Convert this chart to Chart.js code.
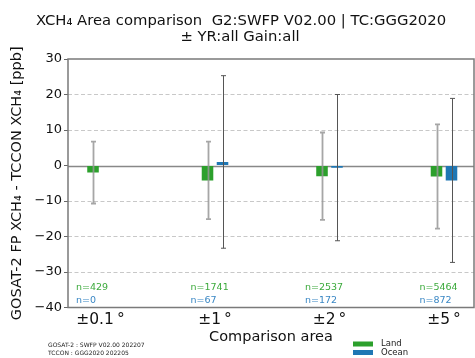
<!DOCTYPE html>
<html>
<head>
<meta charset="utf-8">
<script src="https://cdn.jsdelivr.net/npm/chart.js@4/dist/chart.umd.min.js"></script>
<style>
  body { margin: 0; background: #fff; overflow: hidden; }
  #wrap { width: 475px; height: 358px; }
</style>
</head>
<body>
<div id="wrap"><canvas id="ChartArea" width="475" height="358"></canvas></div>
<script>
// comparison areas
var areas = ['±0.1\u2009°', '±1\u2009°', '±2\u2009°', '±5\u2009°'];
// mean difference and standard deviation (ppb)
var landMean = [-2.0, -4.2, -3.0, -3.1];
var landSd = [8.7, 10.9, 12.3, 14.7];
var oceanMean = [null, 1.0, -0.6, -4.2];
var oceanSd = [null, 24.3, 20.6, 23.1];
// number of samples
var landN = [429, 1741, 2537, 5464];
var oceanN = [0, 67, 172, 872];
var yTicks = [30, 20, 10, 0, -10, -20, -30, -40];

var FONT = "'DejaVu Sans', sans-serif";
var GREEN = '#2ca02c';
var BLUE = '#1f77b4';

function toPoints(vals) {
  return vals.map(function (v, i) { return { x: i, y: v }; });
}

var extras = {
  id: 'extras',
  beforeDatasetsDraw: function (chart) {
    var ctx = chart.ctx, a = chart.chartArea, y = chart.scales.y;
    var y0 = Math.round(y.getPixelForValue(0)) + 0.5;
    ctx.save();
    ctx.strokeStyle = '#888';
    ctx.lineWidth = 1.3;
    ctx.beginPath();
    ctx.moveTo(a.left, y0);
    ctx.lineTo(a.right, y0);
    ctx.stroke();
    ctx.restore();
  },
  afterDatasetsDraw: function (chart) {
    var ctx = chart.ctx, a = chart.chartArea, x = chart.scales.x, y = chart.scales.y;
    var errs = [
      { mean: landMean, sd: landSd, color: 'rgba(150,150,150,0.85)', w: 1.8 },
      { mean: oceanMean, sd: oceanSd, color: '#555', w: 1 }
    ];
    ctx.save();
    errs.forEach(function (e, d) {
      var meta = chart.getDatasetMeta(d);
      meta.data.forEach(function (el, i) {
        if (e.mean[i] === null) return;
        var px = Math.round(el.x) + 0.5;
        var top = y.getPixelForValue(e.mean[i] + e.sd[i]);
        var bot = y.getPixelForValue(e.mean[i] - e.sd[i]);
        ctx.strokeStyle = e.color;
        ctx.lineWidth = e.w;
        ctx.beginPath();
        ctx.moveTo(px, top); ctx.lineTo(px, bot);
        ctx.moveTo(px - 2.5, top); ctx.lineTo(px + 2.5, top);
        ctx.moveTo(px - 2.5, bot); ctx.lineTo(px + 2.5, bot);
        ctx.stroke();
      });
    });

    // sample counts
    ctx.font = '9.5px ' + FONT;
    ctx.textBaseline = 'middle';
    ctx.textAlign = 'left';
    areas.forEach(function (lab, i) {
      var px = x.getPixelForValue(i) - 24.5;
      ctx.fillStyle = '#3caa3c';
      ctx.fillText('n=' + landN[i], px, a.bottom - 19.5);
      ctx.fillStyle = '#3a87c4';
      ctx.fillText('n=' + oceanN[i], px, a.bottom - 6.5);
    });

    // axes box
    ctx.strokeStyle = '#7a7a7a';
    ctx.lineWidth = 1.5;
    ctx.strokeRect(a.left, a.top, a.right - a.left, a.bottom - a.top);
    ctx.restore();
  },
  afterDraw: function (chart) {
    var ctx = chart.ctx;
    ctx.save();
    ctx.fillStyle = '#111';
    ctx.textAlign = 'center';
    ctx.textBaseline = 'alphabetic';
    ctx.font = '14.8px ' + FONT;
    ctx.fillText('XCH\u2084 Area comparison  G2:SWFP V02.00 | TC:GGG2020', 241, 25);
    ctx.fillText('± YR:all Gain:all', 240, 41);

    // footnote
    ctx.textAlign = 'left';
    ctx.textBaseline = 'middle';
    ctx.font = '6px ' + FONT;
    ctx.fillStyle = '#222';
    ctx.fillText('GOSAT-2 : SWFP V02.00 202207', 48, 345);
    ctx.fillText('TCCON : GGG2020 202205', 48, 353);

    // legend
    ctx.fillStyle = GREEN;
    ctx.fillRect(353, 341.5, 20, 5);
    ctx.fillStyle = BLUE;
    ctx.fillRect(353, 350, 20, 5);
    ctx.fillStyle = '#222';
    ctx.font = '8.5px ' + FONT;
    ctx.fillText('Land', 381, 344);
    ctx.fillText('Ocean', 381, 353);
    ctx.restore();
  }
};

var ctx = document.getElementById('ChartArea').getContext('2d');
var myChart = new Chart(ctx, {
  type: 'bar',
  data: {
    datasets: [{
      label: 'Land',
      data: toPoints(landMean),
      backgroundColor: GREEN,
      borderWidth: 0,
      categoryPercentage: 0.262,
      barPercentage: 0.77
    }, {
      label: 'Ocean',
      data: toPoints(oceanMean),
      backgroundColor: BLUE,
      borderWidth: 0,
      categoryPercentage: 0.262,
      barPercentage: 0.77
    }]
  },
  plugins: [extras],
  options: {
    responsive: false,
    animation: false,
    devicePixelRatio: 1,
    layout: { padding: { top: 59, right: 1, left: 0, bottom: 0 } },
    plugins: {
      legend: { display: false },
      tooltip: { enabled: false },
      title: { display: false }
    },
    scales: {
      x: {
        type: 'linear',
        offset: false,
        min: -0.284,
        max: 3.262,
        afterBuildTicks: function (scale) {
          scale.ticks = areas.map(function (a, i) { return { value: i }; });
        },
        afterFit: function (scale) { scale.height = 50.5; },
        ticks: {
          autoSkip: false,
          maxRotation: 0,
          padding: 3,
          color: '#111',
          font: { family: FONT, size: 15.5 },
          callback: function (v) { return areas[v]; }
        },
        grid: { display: false, drawTicks: false, offset: false },
        border: { display: false },
        title: {
          display: true,
          text: 'Comparison area',
          color: '#111',
          font: { family: FONT, size: 14.5 },
          padding: { top: 0, bottom: 12 }
        }
      },
      y: {
        min: -40,
        max: 30,
        afterBuildTicks: function (scale) {
          scale.ticks = yTicks.map(function (v) { return { value: v }; });
        },
        afterFit: function (scale) { scale.width = 68; },
        ticks: {
          padding: 2,
          color: '#111',
          font: { family: FONT, size: 13 },
          callback: function (v) { return v < 0 ? '\u2212' + Math.abs(v) : String(v); }
        },
        grid: {
          color: function (c) {
            var v = c.tick ? c.tick.value : null;
            return (v === 0 || v === 30 || v === -40) ? 'rgba(0,0,0,0)' : '#c8c8c8';
          },
          lineWidth: 1,
          tickColor: '#666',
          tickLength: 4,
          tickBorderDash: []
        },
        border: { display: false, dash: [4, 2.5] },
        title: {
          display: true,
          text: 'GOSAT-2 FP XCH\u2084 - TCCON XCH\u2084 [ppb]',
          color: '#111',
          font: { family: FONT, size: 14.5 },
          padding: { top: 9, bottom: 0 }
        }
      }
    }
  }
});
</script>
</body>
</html>
